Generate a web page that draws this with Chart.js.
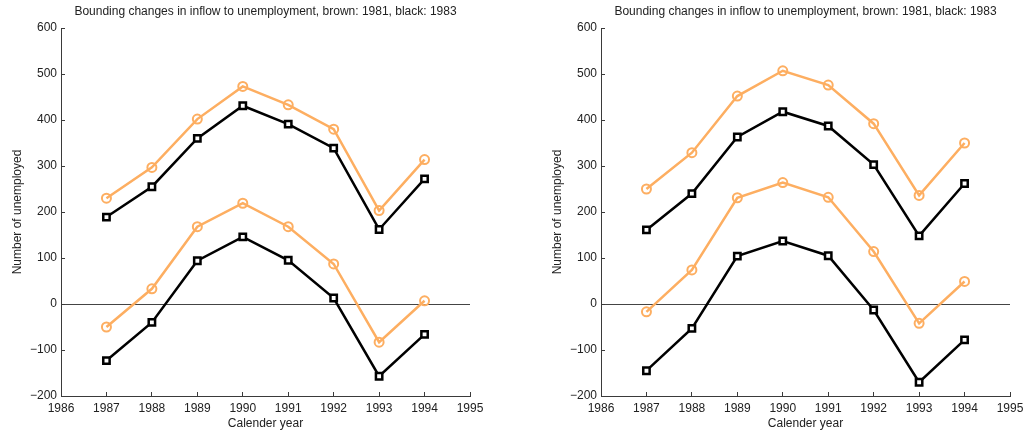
<!DOCTYPE html>
<html>
<head>
<meta charset="utf-8">
<script src="https://cdn.jsdelivr.net/npm/chart.js@4"></script>
<style>
  body { margin: 0; background: #fff; width: 1025px; height: 435px; position: relative; overflow: hidden; }
  .box { position: absolute; top: 0; height: 435px; }
</style>
</head>
<body>
<div class="box" style="left:0;width:534px"><canvas id="left"></canvas></div>
<div class="box" style="left:540px;width:485px"><canvas id="right"></canvas></div>
<script>
// years on the x axis
const years = [1987, 1988, 1989, 1990, 1991, 1992, 1993, 1994];
const xTicks = [1986, 1987, 1988, 1989, 1990, 1991, 1992, 1993, 1994, 1995];
const yTicks = [-200, -100, 0, 100, 200, 300, 400, 500, 600];
const titleText = 'Bounding changes in inflow to unemployment, brown: 1981, black: 1983';

// left panel
const leftBrownUpper = [230, 297, 402, 473, 433, 380, 203, 314];
const leftBlackUpper = [189, 255, 360, 431, 391, 339, 162, 272];
const leftBrownLower = [-50, 33, 168, 219, 168, 87, -83, 7];
const leftBlackLower = [-123, -40, 94, 146, 95, 13, -157, -66];

// right panel
const rightBrownUpper = [250, 329, 452, 507, 476, 392, 236, 350];
const rightBlackUpper = [161, 240, 363, 418, 387, 303, 148, 262];
const rightBrownLower = [-17, 74, 231, 264, 232, 114, -42, 49];
const rightBlackLower = [-145, -53, 104, 137, 105, -13, -170, -78];

const brown = '#FDAE61';
const axisColor = '#3a3a3a';
const fontFam = "'Liberation Sans', Arial, sans-serif";

function toPoints(vals) {
    return vals.map((v, i) => ({ x: years[i], y: v }));
}

function brownSet(vals) {
    return {
        data: toPoints(vals),
        borderColor: brown,
        backgroundColor: 'rgba(255,255,255,0)',
        borderWidth: 2.5,
        pointStyle: 'circle',
        pointRadius: 4.5,
        pointBorderWidth: 2,
        pointBorderColor: brown,
        pointBackgroundColor: 'rgba(255,255,255,0)',
        tension: 0,
        fill: false,
    };
}

function blackSet(vals) {
    return {
        data: toPoints(vals),
        borderColor: '#000',
        backgroundColor: '#fff',
        borderWidth: 2.5,
        pointStyle: 'rect',
        pointRadius: 4.5,
        pointBorderWidth: 2.5,
        pointBorderColor: '#000',
        pointBackgroundColor: '#fff',
        tension: 0,
        fill: false,
    };
}

// title centred over the plot area
const titlePlugin = {
    id: 'plotTitle',
    afterDraw(chart) {
        const { ctx, chartArea } = chart;
        ctx.save();
        ctx.font = '12px ' + fontFam;
        ctx.fillStyle = '#222';
        ctx.textAlign = 'center';
        ctx.textBaseline = 'middle';
        ctx.fillText(titleText, (chartArea.left + chartArea.right) / 2, 12);
        ctx.restore();
    }
};

function makeChart(id, rightPad, sets) {
    return new Chart(document.getElementById(id), {
        type: 'line',
        data: {
            datasets: [
                brownSet(sets[0]),
                blackSet(sets[1]),
                brownSet(sets[2]),
                blackSet(sets[3]),
            ]
        },
        plugins: [titlePlugin],
        options: {
            responsive: true,
            maintainAspectRatio: false,
            animation: false,
            layout: { padding: { left: 0, right: rightPad, top: 28, bottom: 0 } },
            plugins: {
                legend: { display: false },
                tooltip: { enabled: false },
            },
            scales: {
                x: {
                    type: 'linear',
                    min: 1986,
                    max: 1995,
                    afterBuildTicks: (s) => { s.ticks = xTicks.map(v => ({ value: v })); },
                    afterFit: (s) => { s.height = 39; s.paddingLeft = 0; s.paddingRight = 0; },
                    border: { display: true, color: axisColor, width: 1 },
                    grid: { drawOnChartArea: false, drawTicks: true, tickLength: -4, tickColor: axisColor },
                    ticks: {
                        padding: 9,
                        color: '#222',
                        font: { family: fontFam, size: 12 },
                        callback: (v) => String(v),
                        maxRotation: 0,
                    },
                    title: {
                        display: true,
                        text: 'Calender year',
                        color: '#222',
                        font: { family: fontFam, size: 12 },
                        padding: { top: 0, bottom: 4 },
                    },
                },
                y: {
                    min: -200,
                    max: 600,
                    afterBuildTicks: (s) => { s.ticks = yTicks.map(v => ({ value: v })); },
                    afterFit: (s) => { s.width = 61; s.paddingTop = 0; s.paddingBottom = 0; },
                    border: { display: true, color: axisColor, width: 1 },
                    grid: {
                        drawOnChartArea: true,
                        drawTicks: true,
                        tickLength: -4,
                        tickColor: axisColor,
                        color: (c) => (c.tick && c.tick.value === 0 ? '#444' : 'rgba(0,0,0,0)'),
                    },
                    ticks: {
                        padding: 8,
                        color: '#222',
                        font: { family: fontFam, size: 12 },
                        callback: (v) => (v < 0 ? '\u2212' + Math.abs(v) : String(v)),
                    },
                    title: {
                        display: true,
                        text: 'Number of unemployed',
                        color: '#222',
                        font: { family: fontFam, size: 12 },
                        padding: { top: 10, bottom: 0 },
                    },
                },
            },
        },
    });
}

makeChart('left', 64, [leftBrownUpper, leftBlackUpper, leftBrownLower, leftBlackLower]);
makeChart('right', 15, [rightBrownUpper, rightBlackUpper, rightBrownLower, rightBlackLower]);
</script>
</body>
</html>
